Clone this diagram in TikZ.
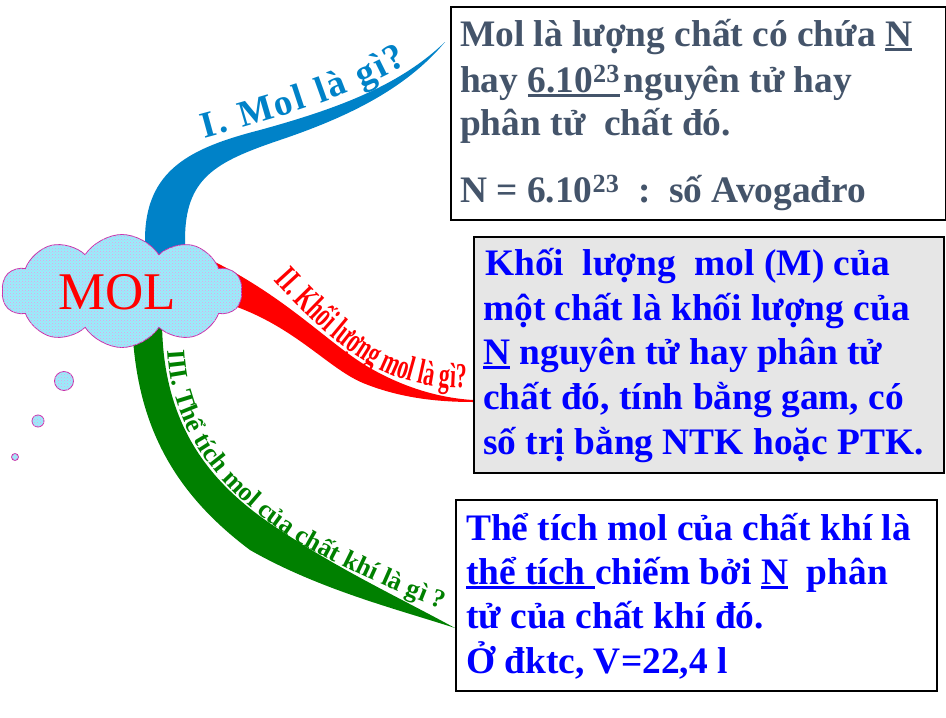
\documentclass[tikz,border=0pt]{standalone}
\usepackage{fontspec}
\setmainfont{Liberation Serif}
\newfontfamily\narrowserif[FakeStretch=0.62]{Liberation Serif}
\usetikzlibrary{shapes.symbols,decorations.text,patterns}
\definecolor{slate}{RGB}{68,84,106}
\definecolor{brblue}{RGB}{0,130,200}
\definecolor{brred}{RGB}{255,0,0}
\definecolor{brgreen}{RGB}{0,128,0}
\definecolor{cloudfill}{RGB}{150,240,250}
\definecolor{clouddot}{RGB}{240,150,230}
\definecolor{cloudline}{RGB}{200,50,170}
\definecolor{boxgray}{RGB}{230,230,230}
\newcommand\myul[1]{\leavevmode\setbox0=\hbox{#1}\rlap{\rule[-5pt]{\wd0}{2.6pt}}\box0\relax}
\tikzset{
 infobox/.style={draw=black, line width=1.5pt, anchor=north west, inner sep=0pt},
 boxline/.style={anchor=base west, inner sep=0pt, font=\fontsize{37.4}{40}\selectfont\bfseries},
 puff/.style={draw=cloudline, line width=0.8pt, fill=cloudfill, postaction={pattern=crosshatch dots, pattern color=clouddot}},
}
\begin{document}
\begin{tikzpicture}[x=1pt,y=-1pt]
\useasboundingbox (0,0) rectangle (946,718);
\fill[white] (0,0) rectangle (946,718);

% branches
\fill[brblue] (145,262) -- (145,240) .. controls (145,170) and (190,148) .. (260,130)
  .. controls (340,108) and (400,85) .. (445,42)
  .. controls (405,90) and (345,118) .. (280,140)
  .. controls (215,162) and (185,178) .. (185,240) -- (185,262) -- cycle;
\fill[brred] (215,262) .. controls (290,300) and (330,345) .. (370,368)
  .. controls (405,388) and (440,398) .. (473,400)
  -- (473,402) .. controls (430,402) and (395,396) .. (363,383)
  .. controls (325,367) and (290,320) .. (215,300) -- cycle;
\fill[brgreen] (132,320) .. controls (135,420) and (170,490) .. (250,550)
  .. controls (320,590) and (400,610) .. (455,628)
  .. controls (400,598) and (340,570) .. (280,530)
  .. controls (215,488) and (162,430) .. (162,320) -- cycle;

% branch labels
\path[decorate, decoration={text along path,
  text={|\fontsize{37}{37}\selectfont\bfseries\color{brblue}|I. Mol là gì?},
  text align={fit to path}}]
  (204,138) .. controls (270,120) and (350,98) .. (408,64);
\path[decorate, decoration={text along path,
  text={|\narrowserif\fontsize{35}{35}\selectfont\bfseries\color{brred}|II. Khối lượng mol là gì?},
  text align={fit to path}}]
  (274,280) .. controls (312,322) and (350,360) .. (400,378) .. controls (425,386) and (445,388) .. (466,388);
\path[decorate, decoration={text along path,
  text={|\fontsize{26}{26}\selectfont\bfseries\color{brgreen}|III. Thể tích mol của chất khí là gì ?},
  text align={fit to path}}]
  (168,350) .. controls (172,440) and (230,500) .. (300,543) .. controls (350,572) and (400,593) .. (442,609);

% cloud
\node[cloud, cloud puffs=10, cloud puff arc=115, cloud ignores aspect,
  minimum width=240pt, minimum height=113pt, inner sep=0pt, puff] (mol) at (122,291) {};
\node[font=\fontsize{53}{53}\selectfont, text=red, inner sep=0pt] (moltext) at (117,292) {MOL};
\node[circle, puff, minimum size=19pt, inner sep=0pt] (bub1) at (64,381) {};
\node[circle, puff, minimum size=12pt, inner sep=0pt] (bub2) at (38,421) {};
\node[circle, puff, minimum size=7pt, inner sep=0pt] (bub3) at (15,457) {};

% boxes
\node[infobox, fill=white, minimum width=495pt, minimum height=213pt] (b1) at (450,6) {};
\node[infobox, fill=boxgray, minimum width=470pt, minimum height=236pt] (b2) at (473,236) {};
\node[infobox, fill=white, minimum width=481pt, minimum height=191pt] (b3) at (455,499) {};

\node[boxline, text=slate] (t11) at (460,46) {Mol là lượng chất có chứa \myul{N}};
\node[boxline, text=slate] (t12) at (460,92) {hay \myul{6.10\textsuperscript{23}}\hspace{4pt}nguyên tử hay};
\node[boxline, text=slate] (t13) at (460,135) {phân tử\ \ chất đó.};
\node[boxline, text=slate] (t14) at (460,202) {N = 6.10\textsuperscript{23}\ \ :\ \ số Avogađro};

\node[boxline, text=blue] (t21) at (485,275) {Khối\ \ lượng\ \ mol (M) của};
\node[boxline, text=blue] (t22) at (483,320) {một\ chất là khối lượng của};
\node[boxline, text=blue] (t23) at (483,364) {\myul{N} nguyên tử hay phân tử};
\node[boxline, text=blue] (t24) at (483,409) {chất đó, tính bằng gam, có};
\node[boxline, text=blue] (t25) at (483,454) {số trị bằng NTK hoặc PTK.};

\node[boxline, text=blue] (t31) at (466,540) {Thể tích mol của chất khí là};
\node[boxline, text=blue] (t32) at (466,584) {\myul{thể tích }chiếm bởi \myul{N}\ \ phân};
\node[boxline, text=blue] (t33) at (466,628) {tử của chất khí đó.};
\node[boxline, text=blue] (t34) at (466,673) {Ở đktc, V=22,4 l};
\end{tikzpicture}
\end{document}
